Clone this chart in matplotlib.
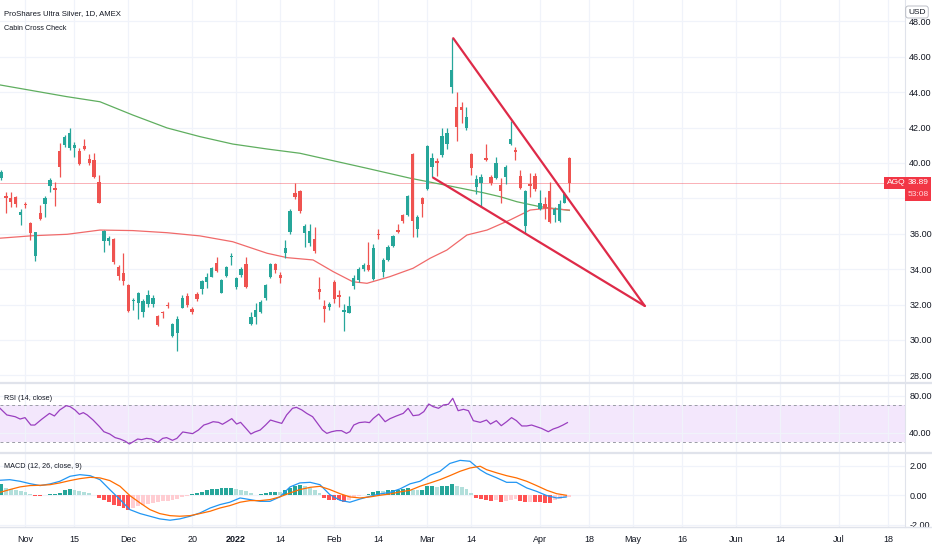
import matplotlib
matplotlib.use("Agg")
import matplotlib.pyplot as plt
import matplotlib.transforms as mtransforms
from matplotlib.patches import Rectangle
from matplotlib.lines import Line2D
from matplotlib.ticker import FormatStrFormatter
import numpy as np

plt.rcParams['font.family'] = ['Liberation Sans Narrow', 'Liberation Sans', 'DejaVu Sans']

# ---------------- data (daily candles, index 0 = 25 Oct 2021) ----------------
opens = [39.13, 38.15, 38.04, 38.06, 37.04, 37.68, 36.59, 34.74, 37.19, 37.68,
         38.70, 38.58, 40.69, 41.01, 40.82, 40.86, 40.69, 40.96, 40.20, 40.16,
         38.94, 35.61, 35.59, 35.72, 34.10, 33.76, 33.10, 32.18, 32.10, 31.60,
         32.03, 32.03, 31.36, 31.54, 32.00, 30.25, 30.38, 31.83, 32.49, 31.73,
         32.60, 32.86, 33.28, 33.58, 34.37, 32.67, 33.64, 34.67, 33.01, 33.65,
         34.29, 30.89, 31.32, 31.60, 32.39, 33.54, 34.29, 33.67, 34.90, 36.12,
         38.29, 38.44, 36.03, 35.46, 35.73, 32.86, 31.92, 31.88, 33.28, 32.51,
         31.60, 31.54, 33.05, 33.39, 33.99, 34.24, 33.43, 35.99, 33.86, 34.52,
         35.31, 36.22, 37.06, 37.06, 40.49, 36.25, 38.04, 38.51, 39.79, 40.11,
         40.45, 41.07, 44.27, 43.18, 43.18, 41.95, 40.50, 38.66, 38.88, 40.26,
         39.19, 39.13, 38.75, 39.22, 41.07, 40.73, 39.28, 36.44, 38.79, 39.28,
         37.38, 37.68, 38.43, 37.06, 36.74, 37.75, 40.30]
highs = [39.60, 38.38, 38.38, 38.13, 37.40, 37.81, 36.68, 36.12, 37.62, 38.13,
         39.13, 38.94, 41.11, 41.58, 41.95, 41.20, 40.82, 41.33, 40.50, 40.54,
         39.32, 36.21, 35.87, 35.74, 34.23, 34.93, 33.16, 32.35, 32.73, 32.29,
         32.82, 32.54, 31.41, 31.66, 32.17, 30.94, 31.36, 32.54, 32.64, 31.88,
         32.73, 33.39, 33.77, 34.14, 34.67, 33.43, 34.18, 34.90, 33.54, 34.11,
         34.67, 31.60, 32.07, 32.26, 33.16, 34.33, 34.37, 33.86, 35.65, 37.38,
         38.89, 38.48, 36.55, 36.55, 36.37, 33.58, 32.26, 32.17, 33.39, 32.83,
         32.03, 32.49, 33.67, 34.11, 34.37, 35.56, 35.42, 36.25, 34.61, 35.37,
         35.93, 36.55, 37.12, 38.19, 40.55, 37.06, 38.10, 41.01, 40.54, 40.26,
         41.95, 41.95, 47.04, 44.03, 43.46, 43.18, 40.54, 39.32, 39.37, 41.07,
         39.32, 40.32, 39.13, 39.88, 42.39, 40.92, 39.60, 38.47, 39.45, 39.45,
         38.47, 38.09, 38.94, 37.53, 37.91, 38.38, 40.35]
lows = [39.04, 37.19, 37.49, 37.49, 36.49, 37.43, 35.65, 34.48, 36.78, 36.93,
        38.38, 37.57, 39.22, 40.92, 40.73, 40.35, 39.88, 40.73, 39.88, 39.13,
        37.72, 34.99, 35.36, 34.29, 33.39, 33.10, 31.60, 31.69, 31.16, 31.31,
        31.88, 31.88, 30.79, 31.22, 31.79, 30.19, 29.40, 31.79, 31.88, 31.47,
        32.22, 32.58, 32.92, 33.54, 33.86, 32.64, 33.58, 34.24, 32.86, 33.54,
        32.96, 30.85, 30.90, 31.54, 32.26, 33.48, 33.77, 33.20, 34.61, 35.99,
        37.95, 37.19, 35.27, 35.31, 34.90, 32.30, 31.04, 31.70, 32.07, 31.88,
        30.53, 31.51, 32.86, 33.30, 33.92, 33.92, 33.39, 35.69, 33.58, 34.48,
        35.27, 36.03, 36.63, 37.01, 35.80, 35.84, 36.93, 38.47, 39.22, 39.28,
        40.35, 40.77, 43.93, 41.26, 42.24, 41.86, 39.32, 38.24, 37.53, 40.13,
        38.75, 39.07, 37.75, 38.81, 41.01, 40.17, 38.51, 36.02, 38.09, 38.43,
        37.34, 36.81, 36.62, 36.68, 36.68, 37.72, 38.38]
closes = [39.51, 38.00, 37.81, 37.68, 37.21, 37.62, 36.02, 36.08, 36.81, 38.00,
          39.04, 38.47, 39.75, 41.45, 41.67, 41.01, 39.94, 40.77, 39.98, 39.22,
          37.75, 36.17, 35.78, 34.42, 33.61, 33.35, 31.63, 32.24, 32.63, 32.20,
          32.54, 32.39, 30.85, 31.51, 31.92, 30.89, 31.21, 32.35, 31.98, 31.60,
          32.30, 33.33, 33.58, 34.05, 33.90, 33.39, 34.11, 34.73, 33.48, 34.03,
          32.98, 31.32, 31.70, 32.17, 33.11, 34.29, 33.96, 33.48, 35.18, 37.31,
          38.10, 37.31, 36.44, 36.18, 35.05, 32.71, 31.73, 32.02, 32.34, 32.45,
          31.66, 31.94, 33.48, 34.01, 34.24, 33.96, 35.18, 35.93, 34.52, 35.27,
          35.88, 36.10, 36.74, 38.14, 36.72, 36.97, 37.67, 40.96, 40.26, 39.99,
          41.52, 41.67, 45.25, 42.05, 42.99, 42.58, 39.69, 39.09, 39.22, 40.17,
          38.88, 40.01, 38.43, 39.79, 41.33, 40.64, 38.56, 38.41, 38.72, 38.51,
          37.75, 37.43, 36.68, 37.38, 37.68, 38.24, 38.89]

# moving averages (read at sample candles)
ma200_x = [-0.2, 13.4, 20.2, 26.9, 33.9, 40.6, 47.3, 54.3, 61.0, 74.7, 83.5, 91.6, 98.4, 101.8, 105.3, 110.0, 116.0]
ma200_v = [44.41, 43.75, 43.46, 42.71, 41.98, 41.49, 41.07, 40.79, 40.55, 39.70, 39.14, 38.70, 38.32, 38.10, 37.81, 37.53, 37.32]
ma50_x = [-0.2, 6.5, 13.5, 20.2, 26.9, 33.9, 40.6, 47.3, 54.3, 58.4, 63.7, 67.8, 71.8, 74.7,
          79.4, 84.1, 87.6, 91.0, 95.1, 99.2, 103.9, 108.0, 111.4, 116.0]
ma50_v = [35.75, 35.89, 35.97, 36.21, 36.18, 36.06, 35.88, 35.55, 34.90, 34.65, 34.52, 33.86, 33.29, 33.20,
          33.58, 34.05, 34.62, 35.08, 35.93, 36.21, 36.78, 37.34, 37.44, 37.34]

# drawn trend lines (candle index, price)
upper_line_x = [92.3, 131.4]
upper_line_v = [47.05, 31.92]
lower_line_x = [88.2, 131.4]
lower_line_v = [39.17, 31.92]

# RSI (14, close)
rsi_x = [-0.2, 1.2, 2.9, 3.9, 4.9, 6.1, 6.9, 8.3, 9.9, 10.9, 12.0, 13.3, 14.1, 15.1, 16.0,
         16.8, 17.6, 18.8, 20.1, 21.0, 22.2, 23.3, 24.3, 25.3, 26.2, 27.0, 27.9, 28.7, 29.7, 30.7,
         32.0, 33.0, 33.8, 35.0, 35.9, 37.1, 37.9, 39.1, 40.3, 41.4, 42.3, 43.3, 44.4, 45.2, 46.1,
         47.1, 48.1, 48.9, 50.0, 51.0, 51.8, 52.9, 54.0, 55.0, 56.1, 57.3, 58.3, 59.5, 60.3, 61.4,
         62.4, 63.6, 64.6, 65.6, 66.5, 67.5, 68.5, 69.5, 70.5, 71.2, 72.0, 73.1, 74.3, 75.2, 76.0,
         77.1, 78.4, 79.4, 80.7, 82.1, 83.1, 84.1, 85.3, 86.3, 87.3, 88.2, 89.3, 90.3, 91.3, 92.2,
         93.3, 94.4, 95.4, 96.4, 97.8, 99.1, 99.9, 101.1, 102.1, 103.2, 104.2, 105.2, 106.3, 107.3,
         108.3, 109.3, 110.3, 111.7, 112.7, 113.7, 114.7, 115.6]
rsi_v = [66.7, 59.5, 57.6, 55.1, 56.6, 48.6, 48.6, 54.8, 61.2, 58.4, 64.9, 69.5, 68.5, 64.9, 60.2,
         62.0, 59.5, 54.0, 46.9, 41.4, 38.9, 35.0, 33.5, 31.3, 28.1, 30.6, 33.5, 32.8, 34.2, 33.5,
         29.9, 34.2, 35.0, 32.1, 34.2, 41.1, 40.4, 39.3, 43.2, 48.6, 50.1, 52.2, 51.5, 49.4, 52.2,
         55.5, 49.7, 51.5, 45.0, 38.9, 41.1, 43.2, 48.6, 54.0, 52.2, 50.4, 59.5, 66.7, 67.7, 64.9,
         61.2, 57.6, 50.4, 43.2, 39.6, 41.4, 42.5, 42.5, 39.6, 41.4, 48.6, 51.2, 51.9, 51.2, 55.8,
         60.5, 52.2, 55.5, 58.4, 61.2, 66.7, 58.7, 59.5, 63.1, 71.3, 68.5, 66.7, 70.3, 71.0, 77.5,
         64.1, 65.6, 64.1, 53.3, 51.5, 54.0, 49.7, 53.3, 47.9, 52.2, 56.6, 53.3, 47.6, 47.6,
         48.6, 46.8, 45.0, 41.4, 44.3, 46.1, 48.6, 51.2]

# MACD (12, 26, close, 9)
macd_x = [-0.2, 1.8, 3.9, 5.9, 8.0, 10.0, 12.0, 14.1, 16.1, 18.2, 20.2, 22.2, 24.3, 26.3, 28.4,
          30.4, 32.4, 34.5, 36.5, 38.6, 40.6, 42.7, 44.7, 46.7, 48.8, 50.8, 52.9, 54.9, 56.9, 59.0,
          61.0, 63.1, 65.1, 67.1, 69.2, 71.2, 73.3, 75.3, 77.3, 79.4, 81.4, 83.5, 85.5, 87.6, 89.6,
          91.6, 93.7, 95.7, 97.8, 99.1, 101.2, 103.2, 105.2, 107.3, 109.3, 111.4, 113.4, 115.4]
macd_v = [1.03, 1.07, 0.96, 0.80, 0.67, 0.78, 0.96, 1.30, 1.41, 1.34, 1.07, 0.40, -0.28, -0.96, -1.23,
          -1.41, -1.59, -1.68, -1.59, -1.41, -1.19, -0.85, -0.62, -0.46, -0.17, -0.28, -0.40, -0.40, -0.10, 0.58,
          0.85, 0.89, 0.73, 0.06, -0.33, -0.46, -0.24, -0.06, 0.10, 0.21, 0.44, 0.79, 0.96, 1.38, 1.64,
          2.17, 2.38, 2.32, 1.74, 1.48, 1.19, 0.89, 0.89, 0.51, 0.28, -0.01, -0.17, -0.10]
signal_v = [0.21, 0.40, 0.58, 0.67, 0.69, 0.73, 0.85, 1.01, 1.14, 1.23, 1.19, 1.01, 0.62, -0.01, -0.51,
            -0.96, -1.23, -1.37, -1.41, -1.37, -1.23, -1.07, -0.85, -0.69, -0.46, -0.35, -0.35, -0.28, -0.10, 0.17,
            0.40, 0.55, 0.62, 0.40, 0.12, -0.10, -0.17, -0.10, 0.01, 0.10, 0.24, 0.35, 0.62, 0.85, 1.07,
            1.34, 1.64, 1.86, 1.98, 1.75, 1.53, 1.34, 1.19, 0.96, 0.67, 0.35, 0.12, 0.01]
hist_v = [0.80, 0.51, 0.44, 0.40, 0.28, 0.21, 0.10, -0.06, -0.06, 0.01,
          0.10, 0.12, 0.17, 0.35, 0.46, 0.40, 0.33, 0.26, 0.17, 0.06,
          -0.17, -0.28, -0.44, -0.62, -0.73, -0.85, -0.96, -0.85, -0.73, -0.64,
          -0.58, -0.51, -0.46, -0.40, -0.35, -0.28, -0.21, -0.12, -0.06, 0.12,
          0.17, 0.26, 0.35, 0.44, 0.46, 0.49, 0.53, 0.53, 0.44, 0.40,
          0.28, 0.17, 0.06, 0.10, 0.17, 0.21, 0.26, 0.21, 0.35, 0.51,
          0.67, 0.73, 0.62, 0.51, 0.35, 0.17, -0.17, -0.28, -0.33, -0.33,
          -0.46, -0.28, -0.10, -0.01, 0.06, 0.10, 0.24, 0.33, 0.28, 0.35,
          0.35, 0.40, 0.44, 0.51, 0.40, 0.35, 0.40, 0.62, 0.62, 0.58,
          0.62, 0.62, 0.80, 0.67, 0.58, 0.44, 0.17, -0.17, -0.24, -0.28,
          -0.40, -0.33, -0.46, -0.35, -0.28, -0.24, -0.40, -0.46, -0.44, -0.46,
          -0.46, -0.51, -0.51, -0.33, -0.24, -0.15, -0.08]

tick_pos = [5, 15, 26, 39, 48, 57, 68, 77, 87, 96, 110, 120, 129, 139, 150, 159, 171, 181]
tick_labels = ['Nov', '15', 'Dec', '20', '2022', '14', 'Feb', '14', 'Mar', '14', 'Apr', '18',
               'May', '16', 'Jun', '14', 'Jul', '18']
price_grid = [28, 30, 32, 34, 36, 38, 40, 42, 44, 46, 48]
price_ticks = [28, 30, 32, 34, 36, 40, 42, 44, 46, 48]   # 38.00 sits under the price tag
rsi_ticks = [40, 80]
macd_ticks = [-2, 0, 2]
symbol = 'AGQ'
countdown = '53:08'

# ---------------- layout ----------------
W, H = 932, 550
fig = plt.figure(figsize=(W / 100, H / 100), dpi=100)
fig.patch.set_facecolor('white')


def fy(py):
    return 1 - py / H


AXR = 905
P_BOT, R_BOT, M_BOT = 383.3, 452.7, 526.7
ax_p = fig.add_axes([0, fy(P_BOT), AXR / W, P_BOT / H])
ax_r = fig.add_axes([0, fy(R_BOT), AXR / W, (R_BOT - P_BOT) / H])
ax_m = fig.add_axes([0, fy(M_BOT), AXR / W, (M_BOT - R_BOT) / H])

TXT = '#131722'
GRID = '#f0f3fa'
for ax in (ax_p, ax_r, ax_m):
    ax.set_facecolor('white')
    ax.set_xlim(-0.2, 184.5)
    for s in ax.spines.values():
        s.set_visible(False)
    ax.yaxis.tick_right()
    ax.tick_params(axis='both', length=0, labelsize=6.5, labelcolor=TXT, pad=3)
    ax.set_xticks(tick_pos)
    ax.grid(True, color=GRID, lw=0.9)
    ax.set_axisbelow(True)
    ax.yaxis.set_major_formatter(FormatStrFormatter('%.2f'))
ax_p.tick_params(axis='x', labelbottom=False)
ax_r.tick_params(axis='x', labelbottom=False)

# ---------------- price pane ----------------
o = np.array(opens); h = np.array(highs); l = np.array(lows); c = np.array(closes)
idx = np.arange(len(o))
up = c >= o
cols = np.where(up, '#26a69a', '#ef5350')
ax_p.set_ylim(27.55, 49.21)
ax_p.set_yticks(price_ticks)
ax_p.grid(False, axis='y')
for g in price_grid:
    ax_p.axhline(g, color=GRID, lw=0.9, zorder=0)
ax_p.vlines(idx, l, h, colors=cols, lw=0.9, zorder=3)
ax_p.bar(idx, np.maximum(np.abs(c - o), 0.07), 0.68, bottom=np.minimum(o, c),
         color=cols, lw=0, zorder=4)

ax_p.plot(ma200_x, ma200_v, color='#5fae5f', lw=0.9, zorder=2)
ax_p.plot(ma50_x, ma50_v, color='#f06a6a', lw=0.9, zorder=2)
last_close = closes[-1]
ax_p.axhline(last_close, color='#f23645', lw=0.6, alpha=0.45, zorder=1)

ax_p.plot(upper_line_x, upper_line_v, color='#de2a48', lw=1.6, zorder=5, solid_capstyle='round')
ax_p.plot(lower_line_x, lower_line_v, color='#de2a48', lw=1.6, zorder=5, solid_capstyle='round')

# ---------------- RSI pane ----------------
ax_r.set_ylim(18.7, 93.7)
ax_r.set_yticks(rsi_ticks)
ax_r.axhspan(30, 70, color='#f3e7fc', lw=0, zorder=0)
for lvl in (70, 30):
    ax_r.axhline(lvl, color='#9a9ca6', lw=0.7, ls=(0, (3, 3)), zorder=1)
ax_r.plot(rsi_x, rsi_v, color='#9a3fc0', lw=0.9, zorder=3)

# ---------------- MACD pane ----------------
ax_m.set_ylim(-2.12, 2.90)
ax_m.set_yticks(macd_ticks)
hv = np.array(hist_v)
hcols = []
for k, v in enumerate(hv):
    prev = hv[k - 1] if k > 0 else 0
    if v >= 0:
        hcols.append('#26a69a' if v >= prev else '#b2dfdb')
    else:
        hcols.append('#ff5252' if v <= prev else '#ffcdd2')
ax_m.bar(np.arange(len(hv)), hv, 0.8, color=hcols, lw=0, zorder=2)
ax_m.plot(macd_x, macd_v, color='#2196f3', lw=0.9, zorder=3)
ax_m.plot(macd_x, signal_v, color='#ff6d00', lw=0.9, zorder=3)

ax_m.set_xticklabels(tick_labels)
ax_m.tick_params(axis='x', pad=6, labelsize=6.5)
for t in ax_m.get_xticklabels():
    if t.get_text() == '2022':
        t.set_fontweight('bold')

# ---------------- separators ----------------
for yy, lw in ((P_BOT, 1.6), (R_BOT, 1.6), (M_BOT, 1.0)):
    fig.add_artist(Line2D([0, 1], [fy(yy), fy(yy)], transform=fig.transFigure,
                          color='#e0e3eb', lw=lw))
fig.add_artist(Line2D([AXR / W, AXR / W], [fy(M_BOT), 1], transform=fig.transFigure,
                      color='#e0e3eb', lw=0.8))

# ---------------- texts ----------------
fig.text(4 / W, fy(14), 'ProShares Ultra Silver, 1D, AMEX', fontsize=5.6, color=TXT, va='center')
fig.text(4 / W, fy(28), 'Cabin Cross Check', fontsize=5.2, color=TXT, va='center')
fig.text(4 / W, fy(398), 'RSI (14, close)', fontsize=5.2, color=TXT, va='center')
fig.text(4 / W, fy(467), 'MACD (12, 26, close, 9)', fontsize=5.2, color=TXT, va='center')

ident = mtransforms.IdentityTransform()
fig.text(917, H - 12, 'USD', transform=ident, fontsize=6, color=TXT, ha='center', va='center',
         bbox=dict(boxstyle='round,pad=0.3', fc='white', ec='#b2b5be', lw=0.6), zorder=20)

y_disp = ax_p.transData.transform((0, last_close))[1]
fig.add_artist(Rectangle((AXR, y_disp - 18), 26, 24, transform=ident,
                         fc='#f23645', ec='none', zorder=15))
fig.text(918, y_disp, f'{last_close:.2f}', transform=ident, fontsize=6, color='white',
         ha='center', va='center', zorder=16)
fig.text(918, y_disp - 12, countdown, transform=ident, fontsize=6, color='#ffd6da',
         ha='center', va='center', zorder=16)
fig.text(896, y_disp, symbol, transform=ident, fontsize=6, color='white', ha='center', va='center',
         bbox=dict(boxstyle='square,pad=0.3', fc='#f23645', ec='none'), zorder=16)

fig.savefig('out.png', dpi=100, facecolor='white')
